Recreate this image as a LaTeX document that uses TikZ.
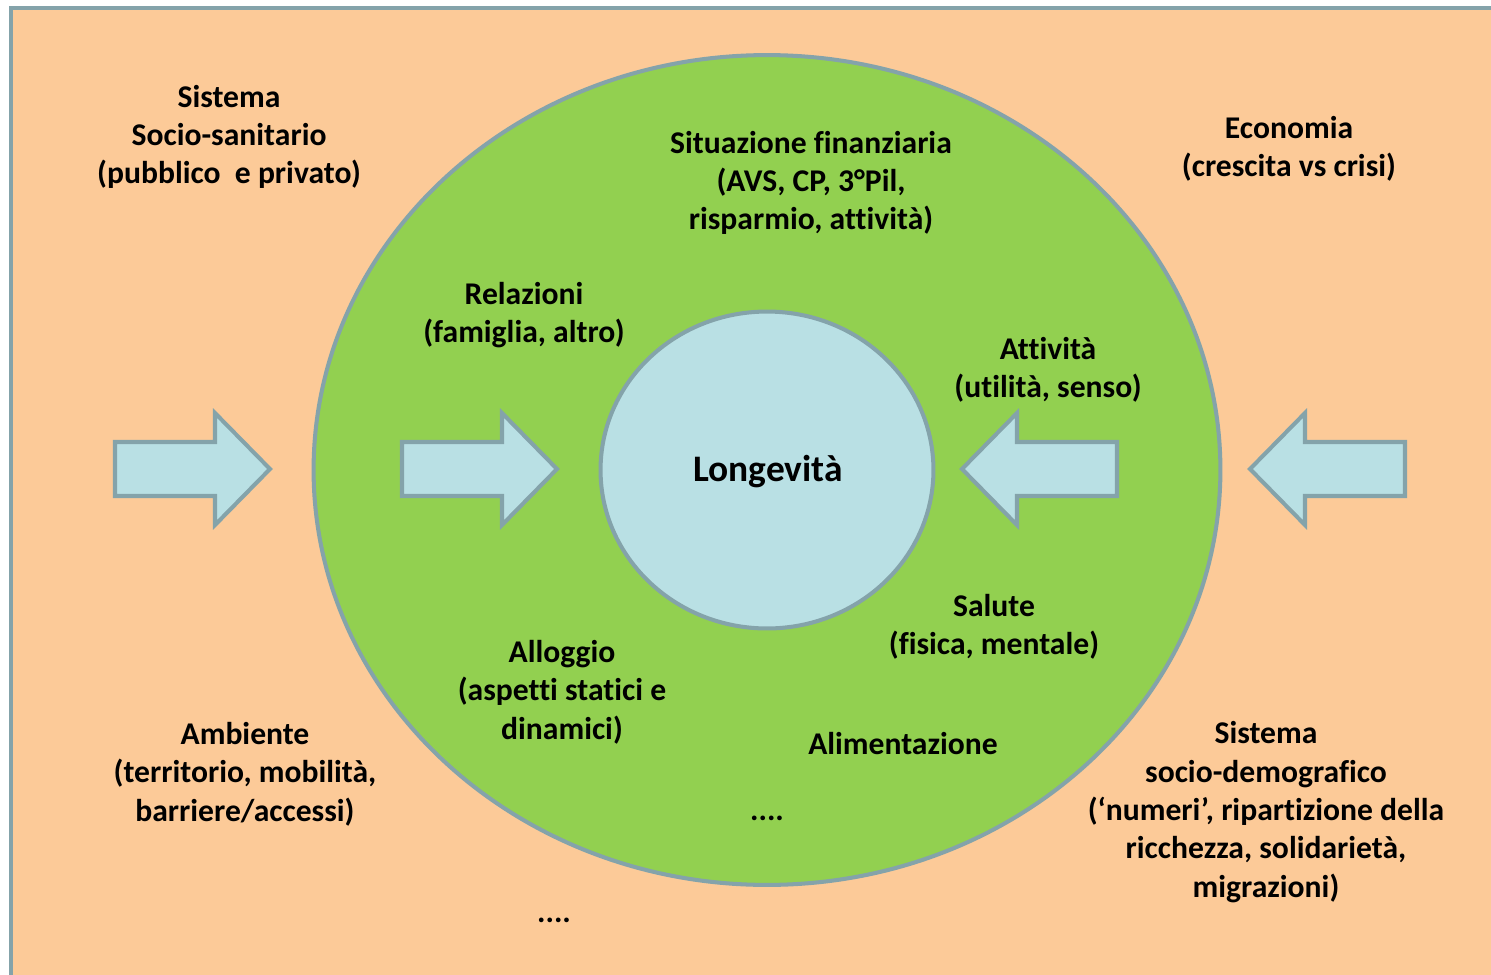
\documentclass[tikz,border=0pt]{standalone}
\usepackage{fontspec}
\setmainfont{Carlito}[Ligatures={NoCommon}]
\usepackage{tikz}
\usetikzlibrary{shapes.geometric}
\definecolor{peachBg}{RGB}{252,202,152}
\definecolor{ringGreen}{RGB}{146,208,80}
\definecolor{coreBlue}{RGB}{185,224,228}
\definecolor{edgeGray}{RGB}{132,163,170}
\tikzset{
  label/.style={align=center, font=\bfseries\fontsize{18}{21.8}\selectfont, text=black, inner sep=0pt},
  biglabel/.style={label, font=\bfseries\fontsize{21.3}{25}\selectfont},
  arrowshape/.style={draw=edgeGray, fill=coreBlue, line width=2.3pt, line join=miter},
  bigarrow/.pic={
    \draw[arrowshape] (0,-27) -- (100,-27) -- (100,-56) -- (155,0)
      -- (100,56) -- (100,27) -- (0,27) -- cycle;
  }
}

\begin{document}
\begin{tikzpicture}[x=0.02cm, y=-0.02cm]
\useasboundingbox (0,0) rectangle (1491,974);
\clip (0,0) rectangle (1491,974);
% background panel
\draw[draw=edgeGray, fill=peachBg, line width=2.8pt] (11,8) rectangle (1530,1010);
% rings
\node[ellipse, draw=edgeGray, fill=ringGreen, line width=2.3pt,
      minimum width=18.14cm, minimum height=16.6cm, inner sep=0pt] (ring) at (767,470) {};
\node[ellipse, draw=edgeGray, fill=coreBlue, line width=2.3pt,
      minimum width=6.66cm, minimum height=6.34cm, inner sep=0pt] (core) at (767,470) {};
% block arrows
\pic at (115,469) {bigarrow};
\pic at (402,469) {bigarrow};
\pic[xscale=-1] at (1117,469) {bigarrow};
\pic[xscale=-1] at (1405,469) {bigarrow};
% texts
\node[biglabel] (longev) at (768,472) {Longevità};
\node[label] (sanit) at (229,137) {Sistema\\Socio-sanitario\\(pubblico\ \ e privato)};
\node[label] (econ) at (1289,149) {Economia\\(crescita vs crisi)};
\node[label] (finanz) at (811,183) {Situazione finanziaria\\(AVS, CP, 3°Pil,\\risparmio, attività)};
\node[label] (relaz) at (524,315) {Relazioni\\(famiglia, altro)};
\node[label] (attiv) at (1048,370) {Attività\\(utilità, senso)};
\node[label] (salute) at (994,627) {Salute\\(fisica, mentale)};
\node[label] (allog) at (562,692) {Alloggio\\(aspetti statici e\\dinamici)};
\node[label] (alim) at (903,744) {Alimentazione};
\node[label] (dotsin) at (767,818) {....};
\node[label] (ambient) at (245,774) {Ambiente\\(territorio, mobilità,\\barriere/accessi)};
\node[label] (demogr) at (1266,812) {Sistema\\socio-demografico\\(‘numeri’, ripartizione della\\ricchezza, solidarietà,\\migrazioni)};
\node[label] (dotsout) at (554,920) {....};
\end{tikzpicture}
\end{document}
